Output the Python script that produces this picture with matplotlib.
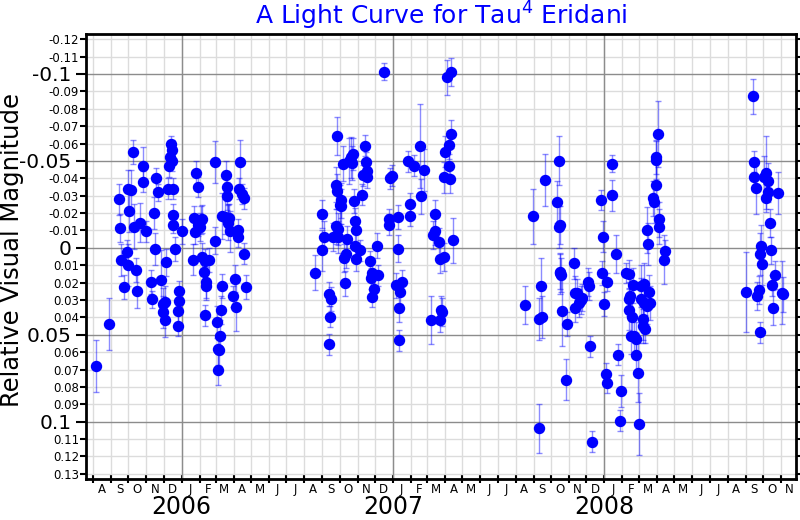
import numpy as np
import matplotlib
matplotlib.use('Agg')
import matplotlib.pyplot as plt
import matplotlib.dates as mdates
from matplotlib.ticker import FixedLocator, FixedFormatter

plt.rcParams['axes.unicode_minus'] = False

# season 1 (2005-2006)
dates1 = ['2005-08-07', '2005-08-28', '2005-09-15', '2005-09-17', '2005-09-19', '2005-09-23',
          '2005-09-29', '2005-10-01', '2005-10-01', '2005-10-02', '2005-10-06', '2005-10-10',
          '2005-10-11', '2005-10-14', '2005-10-16', '2005-10-22', '2005-10-26', '2005-10-26',
          '2005-11-01', '2005-11-10', '2005-11-11', '2005-11-14', '2005-11-17', '2005-11-18',
          '2005-11-21', '2005-11-26', '2005-11-30', '2005-11-30', '2005-12-03', '2005-12-04',
          '2005-12-06', '2005-12-10', '2005-12-12', '2005-12-14', '2005-12-15', '2005-12-16',
          '2005-12-09', '2005-12-18', '2005-12-18', '2005-12-17', '2005-12-21', '2005-12-27',
          '2005-12-28', '2005-12-26', '2005-12-26', '2006-01-01',
          '2006-01-21', '2006-01-22', '2006-01-24', '2006-01-26', '2006-01-29', '2006-01-29',
          '2006-02-01', '2006-02-04', '2006-02-06', '2006-02-05', '2006-02-08', '2006-02-11',
          '2006-02-12', '2006-02-12', '2006-02-17', '2006-02-10', '2006-02-27', '2006-02-27',
          '2006-03-04', '2006-03-08', '2006-03-05', '2006-03-06', '2006-03-05', '2006-03-10',
          '2006-03-12', '2006-03-12', '2006-03-19', '2006-03-21', '2006-03-21', '2006-03-17',
          '2006-03-22', '2006-03-24', '2006-03-22', '2006-03-25', '2006-03-31', '2006-04-04',
          '2006-04-05', '2006-04-08', '2006-04-08', '2006-04-12', '2006-04-10', '2006-04-15',
          '2006-04-18', '2006-04-19', '2006-04-22']
mags1 = [0.068, 0.044, -0.028, -0.0115, 0.007, 0.0225,
         0.0025, 0.0098, -0.034, -0.021, -0.033, -0.055,
         -0.0122, 0.0128, 0.0248, -0.0145, -0.038, -0.047,
         -0.0094, 0.0197, 0.0296, -0.020, 0.0006, -0.040,
         -0.032, 0.0185, 0.0323, 0.037, 0.0414, 0.031,
         0.0084, -0.047, -0.052, -0.0595, -0.056, -0.050,
         -0.034, -0.034, -0.019, -0.0134, 0.0008, 0.0248,
         0.0305, 0.0365, 0.0447, -0.0094,
         0.0069, -0.017, -0.009, -0.043, -0.035, -0.013,
         -0.012, -0.016, -0.0165, 0.0053, 0.0139, 0.0078,
         0.0198, 0.0218, 0.0069, 0.0387, -0.0492, -0.0042,
         0.0426, 0.0508, 0.0584, 0.059, 0.070, 0.0357,
         0.0221, -0.0183, -0.042, -0.035, -0.030, -0.018,
         -0.017, -0.017, -0.0145, -0.0094, 0.0279, 0.0177,
         0.0338, -0.0103, -0.0065, -0.0492, -0.034, -0.031,
         -0.0284, 0.0034, 0.0225]
errs1 = [0.015, 0.015, 0.009, 0.008, 0.009, 0.007,
         0.007, 0.012, 0.011, 0.012, 0.012, 0.007,
         0.013, 0.007, 0.010, 0.011, 0.006, 0.011,
         0.006, 0.007, 0.005, 0.009, 0.009, 0.006,
         0.005, 0.017, 0.009, 0.009, 0.010, 0.009,
         0.008, 0.006, 0.006, 0.005, 0.006, 0.006,
         0.006, 0.006, 0.006, 0.005, 0.007, 0.006,
         0.006, 0.007, 0.006, 0.007,
         0.009, 0.007, 0.007, 0.007, 0.006, 0.006,
         0.008, 0.008, 0.008, 0.008, 0.007, 0.007,
         0.009, 0.008, 0.007, 0.006, 0.012, 0.008,
         0.009, 0.009, 0.009, 0.009, 0.009, 0.008,
         0.007, 0.013, 0.008, 0.008, 0.008, 0.010,
         0.008, 0.008, 0.010, 0.012, 0.006, 0.008,
         0.014, 0.006, 0.006, 0.013, 0.006, 0.006,
         0.006, 0.006, 0.007]

# season 2 (2006-2007)
dates2 = ['2006-08-20', '2006-08-31', '2006-08-31', '2006-09-04', '2006-09-12', '2006-09-12',
          '2006-09-15', '2006-09-16', '2006-09-20', '2006-09-24', '2006-09-25', '2006-09-27',
          '2006-09-27', '2006-09-29', '2006-09-29', '2006-10-02', '2006-10-03', '2006-10-04',
          '2006-10-06', '2006-10-09', '2006-10-10', '2006-10-12', '2006-10-13', '2006-10-18',
          '2006-10-21', '2006-10-23', '2006-10-24', '2006-10-25', '2006-10-28', '2006-10-28',
          '2006-10-30', '2006-10-30', '2006-11-05', '2006-11-09', '2006-11-11', '2006-11-13',
          '2006-11-15', '2006-11-17', '2006-11-18', '2006-11-22', '2006-11-24', '2006-11-25',
          '2006-11-26', '2006-11-30', '2006-12-04', '2006-12-07', '2006-12-17', '2006-12-25',
          '2006-12-26', '2006-12-27', '2006-12-30',
          '2007-01-06', '2007-01-09', '2007-01-09', '2007-01-11', '2007-01-12', '2007-01-13',
          '2007-01-16', '2007-01-27', '2007-01-30', '2007-01-30', '2007-02-06', '2007-02-17',
          '2007-02-18', '2007-02-24', '2007-03-08', '2007-03-12', '2007-03-14', '2007-03-15',
          '2007-03-21', '2007-03-23', '2007-03-24', '2007-03-25', '2007-03-27', '2007-03-30',
          '2007-03-31', '2007-04-01', '2007-04-04', '2007-04-07', '2007-04-08', '2007-04-10',
          '2007-04-11', '2007-04-12', '2007-04-15']
mags2 = [0.0143, -0.0195, 0.0015, -0.0063, 0.0264, 0.0554,
         0.0396, 0.0296, -0.0063, -0.0363, -0.0124, -0.0644,
         -0.0325, -0.0063, -0.0109, -0.0249, -0.0273, -0.0239,
         -0.0484, 0.0057, 0.0205, 0.0034, -0.0048, -0.050,
         -0.052, -0.0488, -0.054, -0.0268, -0.0157, -0.0013,
         -0.0105, 0.0063, 0.0013, -0.0306, -0.0417, -0.0587,
         -0.0493, -0.0444, -0.0405, 0.0076, 0.0176, 0.0143,
         0.0283, 0.0235, -0.0013, 0.0157, -0.1013, -0.0166,
         -0.0134, -0.040, -0.0415,
         0.0216, -0.0176, 0.0004, 0.0344, 0.0532, 0.0254,
         0.0197, -0.0497, -0.0254, -0.0185, -0.0472, -0.0587,
         -0.0296, -0.0446, 0.0415, -0.0073, -0.0195, -0.0096,
         -0.0034, 0.0063, 0.0415, 0.0358, 0.037, 0.0054,
         -0.0405, -0.0554, -0.098, -0.0593, -0.0472, -0.0396,
         -0.0654, -0.1013, -0.0044]
errs2 = [0.010, 0.008, 0.012, 0.009, 0.007, 0.006,
         0.006, 0.007, 0.008, 0.010, 0.010, 0.011,
         0.010, 0.009, 0.009, 0.011, 0.010, 0.010,
         0.010, 0.008, 0.007, 0.008, 0.008, 0.013,
         0.012, 0.010, 0.009, 0.007, 0.007, 0.008,
         0.007, 0.007, 0.006, 0.006, 0.006, 0.006,
         0.006, 0.006, 0.006, 0.006, 0.006, 0.006,
         0.006, 0.006, 0.007, 0.006, 0.005, 0.006,
         0.006, 0.006, 0.006,
         0.007, 0.007, 0.008, 0.008, 0.006, 0.007,
         0.007, 0.006, 0.006, 0.006, 0.006, 0.024,
         0.010, 0.012, 0.014, 0.008, 0.008, 0.008,
         0.008, 0.008, 0.007, 0.008, 0.008, 0.008,
         0.009, 0.009, 0.010, 0.008, 0.007, 0.008,
         0.008, 0.008, 0.013]

# season 3 (2007-2008)
dates3 = ['2007-08-17', '2007-08-31', '2007-09-10', '2007-09-11', '2007-09-13', '2007-09-15',
          '2007-09-20', '2007-10-12', '2007-10-14', '2007-10-15', '2007-10-16', '2007-10-16',
          '2007-10-17', '2007-10-18', '2007-10-20', '2007-10-26', '2007-10-28', '2007-11-10',
          '2007-11-11', '2007-11-12', '2007-11-15', '2007-11-18', '2007-11-21', '2007-11-24',
          '2007-12-03', '2007-12-06', '2007-12-08', '2007-12-10', '2007-12-26', '2007-12-28',
          '2007-12-30', '2007-12-31',
          '2008-01-04', '2008-01-05', '2008-01-06', '2008-01-14', '2008-01-15', '2008-01-22',
          '2008-01-24', '2008-01-28', '2008-01-29', '2008-02-08', '2008-02-12', '2008-02-12',
          '2008-02-13', '2008-02-14', '2008-02-16', '2008-02-18', '2008-02-19', '2008-02-22',
          '2008-02-24', '2008-02-24', '2008-02-28', '2008-03-01', '2008-03-04', '2008-03-05',
          '2008-03-07', '2008-03-08', '2008-03-09', '2008-03-09', '2008-03-12', '2008-03-14',
          '2008-03-14', '2008-03-16', '2008-03-18', '2008-03-20', '2008-03-25', '2008-03-27',
          '2008-03-30', '2008-03-30', '2008-03-31', '2008-04-03', '2008-04-04', '2008-04-05',
          '2008-04-13', '2008-04-14']
mags3 = [0.0328, -0.0181, 0.1038, 0.0408, 0.022, 0.0399,
         -0.039, -0.0263, -0.0502, -0.012, -0.013, 0.0147,
         0.0137, 0.0156, 0.0366, 0.0758, 0.0439, 0.009,
         0.0349, 0.0261, 0.0261, 0.0319, 0.030, 0.0286,
         0.0198, 0.0218, 0.0567, 0.1116, -0.0275, 0.0145,
         -0.0065, 0.0323,
         0.0723, 0.0775, 0.0197, -0.0303, -0.0485, 0.0036,
         0.0615, 0.0994, 0.0824, 0.0145, 0.0294, 0.0355,
         0.0151, 0.0275, 0.0508, 0.0397, 0.0216, 0.0508,
         0.0527, 0.0616, 0.0718, 0.1013, 0.0221, 0.0294,
         0.0412, 0.045, 0.0208, 0.0317, 0.0466, 0.0336,
         -0.0103, -0.0023, 0.0254, 0.0317, -0.0284, -0.0265,
         -0.036, -0.0504, -0.0523, -0.0653, -0.0122, -0.0164,
         0.0069, 0.0017]
errs3 = [0.011, 0.016, 0.014, 0.012, 0.016, 0.012,
         0.015, 0.012, 0.014, 0.012, 0.011, 0.012,
         0.010, 0.010, 0.020, 0.012, 0.007, 0.009,
         0.008, 0.010, 0.008, 0.008, 0.008, 0.008,
         0.008, 0.008, 0.006, 0.006, 0.006, 0.007,
         0.009, 0.007,
         0.006, 0.006, 0.005, 0.009, 0.005, 0.011,
         0.006, 0.006, 0.009, 0.006, 0.010, 0.012,
         0.008, 0.012, 0.010, 0.012, 0.010, 0.010,
         0.010, 0.009, 0.017, 0.018, 0.012, 0.012,
         0.012, 0.010, 0.012, 0.012, 0.008, 0.010,
         0.013, 0.012, 0.010, 0.010, 0.010, 0.012,
         0.012, 0.011, 0.010, 0.019, 0.010, 0.010,
         0.014, 0.006]

# season 4 (2008)
dates4 = ['2008-09-02', '2008-09-14', '2008-09-15', '2008-09-16', '2008-09-19', '2008-09-21',
          '2008-09-24', '2008-09-25', '2008-09-26', '2008-09-27', '2008-09-30', '2008-10-02',
          '2008-10-07', '2008-10-07', '2008-10-09', '2008-10-10', '2008-10-13', '2008-10-15',
          '2008-10-17', '2008-10-18', '2008-10-22', '2008-10-27', '2008-11-03', '2008-11-05']
mags4 = [0.0252, -0.0872, -0.0496, -0.0405, -0.0344, 0.0277,
         0.0244, 0.0487, 0.0034, -0.001, 0.0095, -0.041,
         -0.0433, -0.0286, -0.0387, -0.0324, -0.0143, 0.0015,
         0.0216, 0.0344, 0.0156, -0.0315, 0.0258, 0.0267]
errs4 = [0.023, 0.010, 0.006, 0.007, 0.015, 0.008,
         0.008, 0.006, 0.012, 0.012, 0.012, 0.012,
         0.021, 0.008, 0.010, 0.006, 0.008, 0.008,
         0.006, 0.010, 0.008, 0.012, 0.018, 0.010]

y_major = [-0.1, -0.05, 0, 0.05, 0.1]
y_major_labels = ['-0.1', '-0.05', '0', '0.05', '0.1']
y_minor = [-0.12, -0.11, -0.09, -0.08, -0.07, -0.06, -0.04, -0.03, -0.02, -0.01,
           0.01, 0.02, 0.03, 0.04, 0.06, 0.07, 0.08, 0.09, 0.11, 0.12, 0.13]
y_minor_labels = ['-0.12', '-0.11', '-0.09', '-0.08', '-0.07', '-0.06', '-0.04', '-0.03', '-0.02', '-0.01',
                  '0.01', '0.02', '0.03', '0.04', '0.06', '0.07', '0.08', '0.09', '0.11', '0.12', '0.13']
month_letters = list('ASONDJFMAMJJASONDJFMAMJJASONDJFMAMJJASON')
years = ['2006', '2007', '2008']

dates = np.array(dates1 + dates2 + dates3 + dates4, dtype='datetime64[D]')
mags = np.array(mags1 + mags2 + mags3 + mags4)
errs = np.array(errs1 + errs2 + errs3 + errs4)

fig = plt.figure(figsize=(8, 5.2), dpi=100)
ax = fig.add_axes([0.1075, 0.0788, 0.8875, 0.8558])

ax.errorbar(dates, mags, yerr=errs, fmt='none', ecolor=(0, 0, 1, 0.45),
            elinewidth=1, capsize=2.5, capthick=1, zorder=2)
ax.plot(dates, mags, 'o', color='blue', ms=7.2, zorder=3)

ax.set_xlim(np.datetime64('2005-07-20'), np.datetime64('2008-11-27'))
ax.set_ylim(0.133, -0.123)

# y ticks
ax.yaxis.set_major_locator(FixedLocator(y_major))
ax.yaxis.set_major_formatter(FixedFormatter(y_major_labels))
ax.yaxis.set_minor_locator(FixedLocator(y_minor))
ax.yaxis.set_minor_formatter(FixedFormatter(y_minor_labels))
ax.tick_params(axis='y', which='major', labelsize=14.5, length=7, width=1.5, pad=3.5,
               right=True, direction='out')
ax.tick_params(axis='y', which='minor', labelsize=8.5, length=4, width=1.5, pad=1,
               right=True, direction='out')

# x ticks: month boundaries (marks) and mid-month letters
month_starts = []
mid_months = []
y0, m0 = 2005, 8
for i in range(len(month_letters)):
    yy = y0 + (m0 - 1 + i) // 12
    mm = (m0 - 1 + i) % 12 + 1
    month_starts.append(np.datetime64('%04d-%02d-01' % (yy, mm)))
    mid_months.append(np.datetime64('%04d-%02d-16' % (yy, mm)))
month_starts.append(np.datetime64('2008-12-01'))
ax.xaxis.set_minor_locator(FixedLocator(mdates.date2num(month_starts)))
ax.xaxis.set_major_locator(FixedLocator(mdates.date2num(mid_months)))
ax.xaxis.set_major_formatter(FixedFormatter(month_letters))
ax.tick_params(axis='x', which='major', length=0, labelsize=8.5, pad=3)
ax.tick_params(axis='x', which='minor', length=6, width=1.5, direction='inout')

for yr in years:
    ax.text(np.datetime64(yr + '-01-01'), -0.0787, yr, transform=ax.get_xaxis_transform(),
            ha='center', va='baseline', fontsize=17)
    ax.axvline(np.datetime64(yr + '-01-01'), color='#8c8c8c', lw=1, zorder=1)

ax.yaxis.grid(True, which='major', color='#8c8c8c', lw=1, zorder=1)
ax.yaxis.grid(True, which='minor', color='#dcdcdc', lw=1, zorder=0)
ax.xaxis.grid(True, which='minor', color='#dcdcdc', lw=1, zorder=0)
ax.xaxis.grid(False, which='major')
ax.set_axisbelow(True)

for s in ax.spines.values():
    s.set_linewidth(2)

ax.set_title('A Light Curve for Tau$^4$ Eridani', color='blue', fontsize=18, pad=7)
ax.set_ylabel('Relative Visual Magnitude', fontsize=17.5)
ax.yaxis.set_label_coords(-0.087, 0.515)

plt.savefig('out.png', dpi=100)
